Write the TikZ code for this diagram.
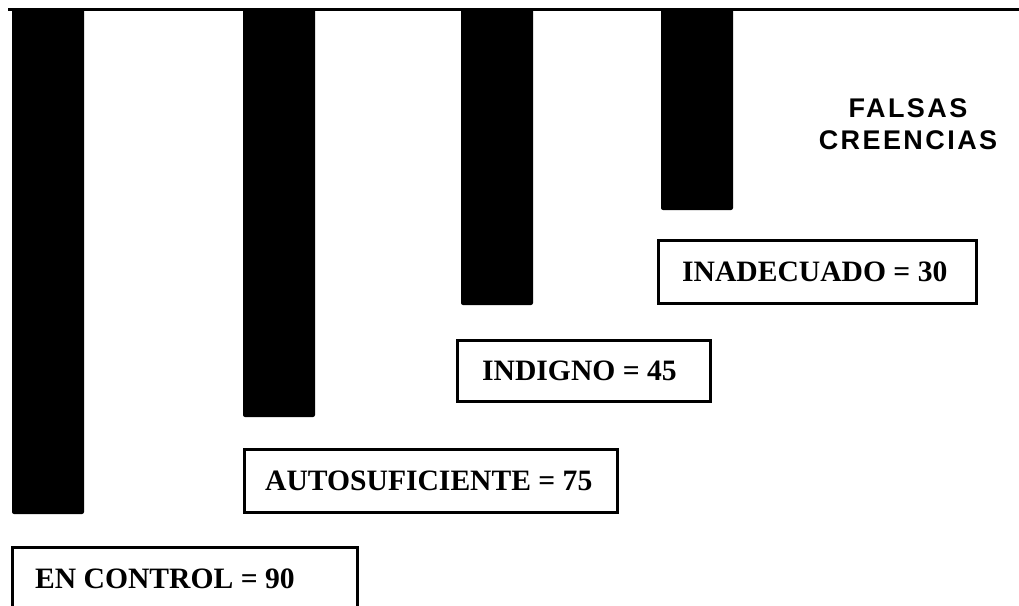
\documentclass[tikz,border=0pt]{standalone}
\usepackage{fontspec}
\setmainfont{Liberation Serif}
\setsansfont{Liberation Sans}[LetterSpace=9,BoldFont={Liberation Sans Bold}]
\begin{document}
\begin{tikzpicture}[x=1pt,y=-1pt,
  bar/.style={fill=black,draw=none,rounded corners=2pt},
  labelbox/.style={draw=black,line width=2.6pt,rectangle,anchor=north west,
    inner xsep=0pt,inner ysep=0pt,minimum height=63pt},
  labeltext/.style={anchor=west,inner sep=0pt,font=\fontsize{29.6}{35}\selectfont\bfseries},
  titletext/.style={font=\sffamily\bfseries\fontsize{27}{31.5}\selectfont,align=center}
]
\useasboundingbox (0,0) rectangle (1019,605);
\clip (0,0) rectangle (1019,605);
% top line
\coordinate (L0) at (8,9.5);
\coordinate (L1) at (1025,9.5);
\draw[line width=3pt] (L0) -- (L1);
% bars
\fill[bar] (12,8) rectangle (84,514);
\fill[bar] (243,8) rectangle (315,417);
\fill[bar] (461,8) rectangle (533,305);
\fill[bar] (661,8) rectangle (733,210);
% label boxes
\node[labelbox,minimum width=345pt] (b1) at (11,546) {};
\node[labeltext] (t1) at ([xshift=24pt]b1.west) {EN CONTROL = 90};
\node[labelbox,minimum width=373pt] (b2) at (243,448) {};
\node[labeltext] (t2) at ([xshift=22pt]b2.west) {AUTOSUFICIENTE = 75};
\node[labelbox,minimum width=253pt,minimum height=61pt] (b3) at (456,339) {};
\node[labeltext] (t3) at ([xshift=26pt]b3.west) {INDIGNO = 45};
\node[labelbox,minimum width=318pt] (b4) at (657,239) {};
\node[labeltext] (t4) at ([xshift=25pt]b4.west) {INADECUADO = 30};
% title
\node[titletext] (title) at (908,124) {FALSAS\\CREENCIAS};
\end{tikzpicture}
\end{document}
